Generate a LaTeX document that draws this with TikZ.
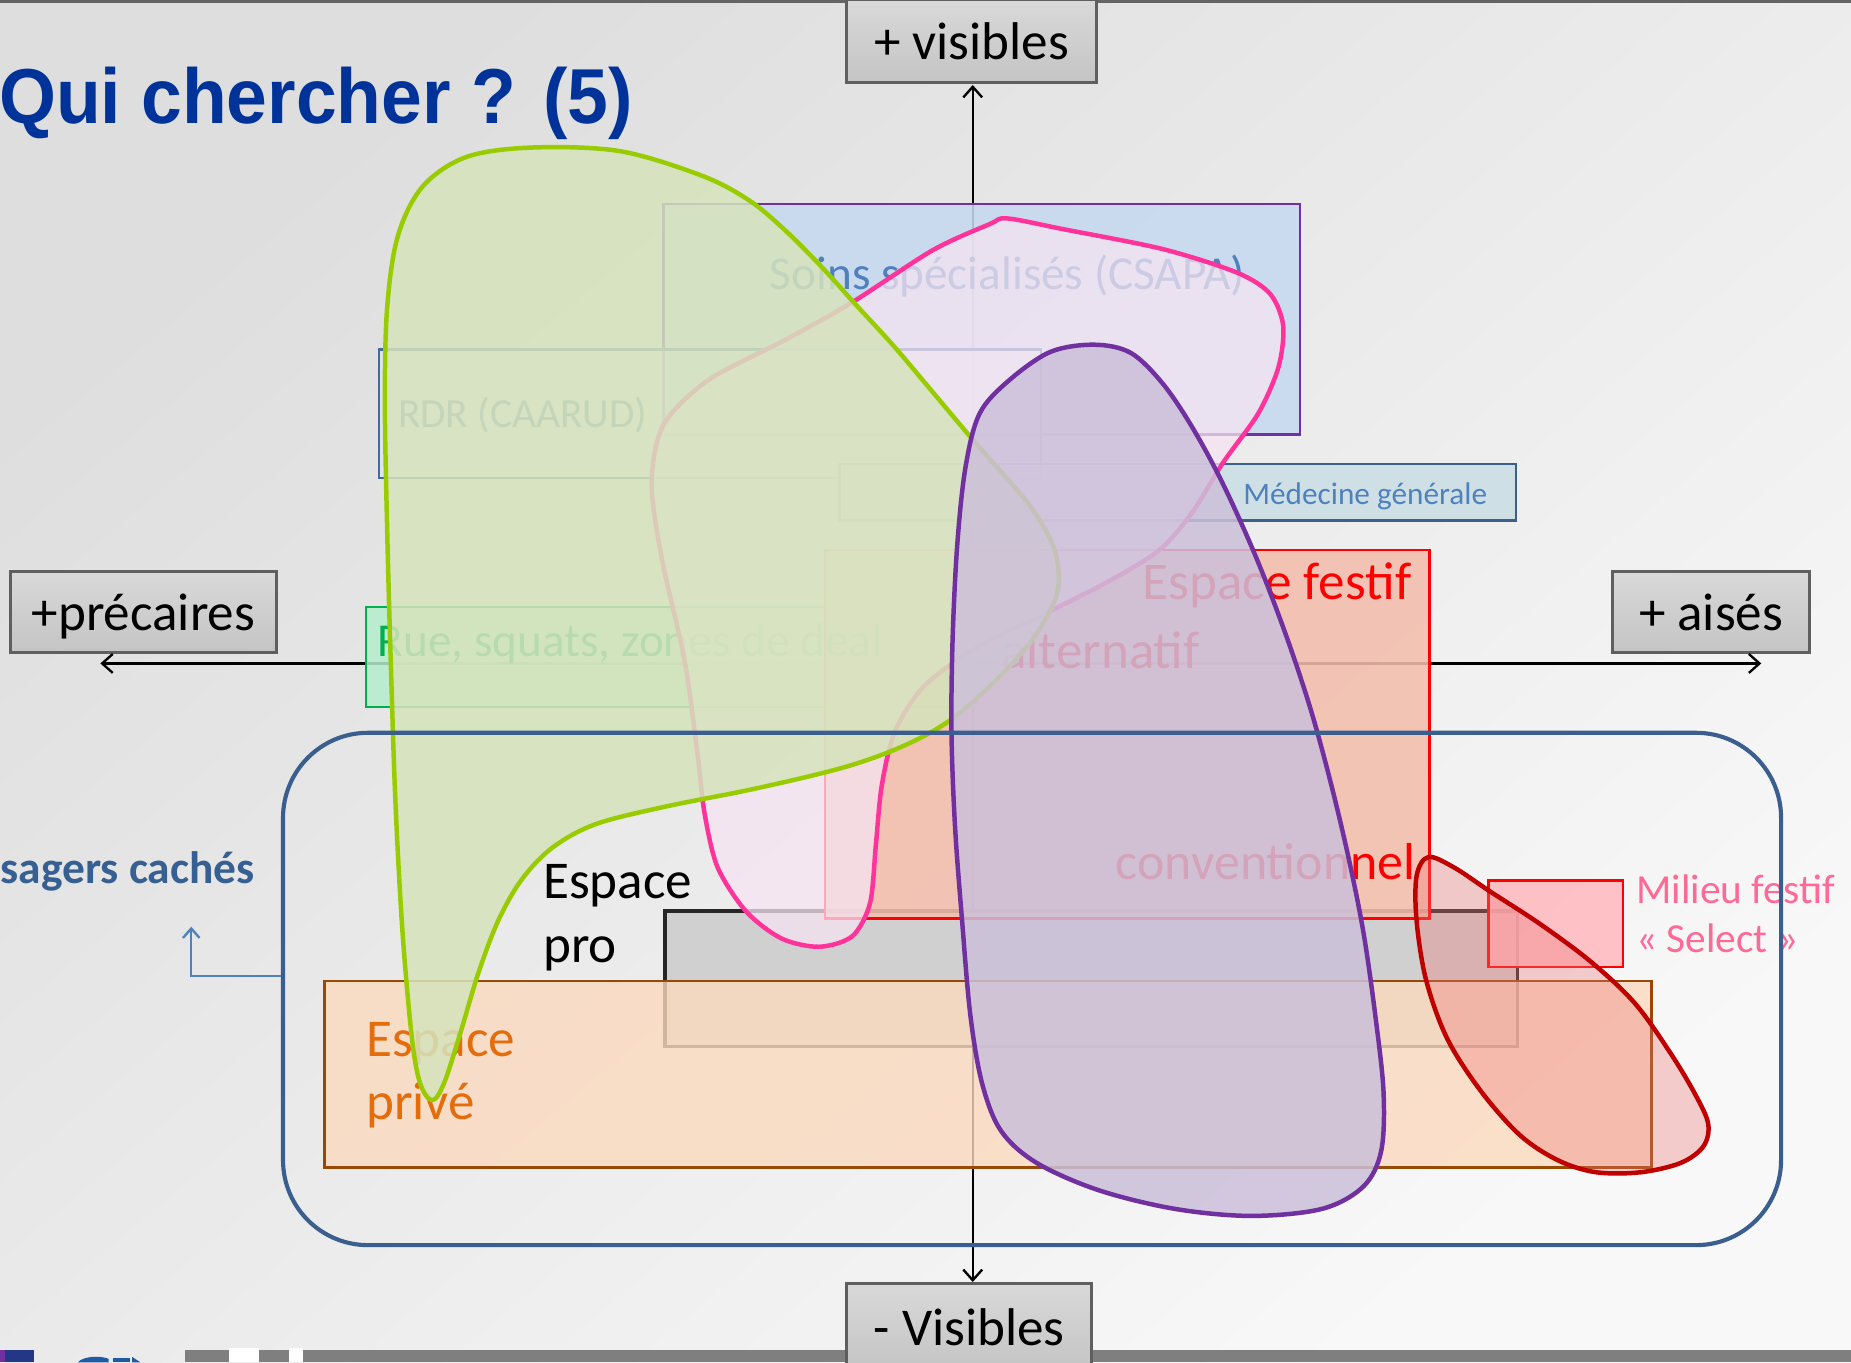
\documentclass[tikz,border=0pt]{standalone}
\usepackage{fontspec}
\setmainfont{Carlito}
\newfontfamily\titlefont{Liberation Sans}
\usetikzlibrary{arrows.meta}
\definecolor{bgL}{RGB}{222,222,222}
\definecolor{bgB}{RGB}{248,248,248}
\definecolor{titleblue}{RGB}{0,51,153}
\definecolor{gtop}{RGB}{217,217,217}
\definecolor{gbot}{RGB}{196,196,196}
\definecolor{gedge}{RGB}{95,95,95}
\definecolor{csapafill}{RGB}{198,217,240}
\definecolor{csapaedge}{RGB}{112,48,160}
\definecolor{txtblue}{RGB}{79,129,189}
\definecolor{rdrfill}{RGB}{220,230,242}
\definecolor{rdredge}{RGB}{70,105,155}
\definecolor{medfill}{RGB}{204,222,230}
\definecolor{mededge}{RGB}{60,95,140}
\definecolor{ruefill}{RGB}{180,238,204}
\definecolor{rueedge}{RGB}{0,176,80}
\definecolor{festfill}{RGB}{243,190,172}
\definecolor{profill}{RGB}{208,208,208}
\definecolor{proedge}{RGB}{38,38,38}
\definecolor{privfill}{RGB}{251,217,190}
\definecolor{privedge}{RGB}{152,72,7}
\definecolor{privtext}{RGB}{228,108,10}
\definecolor{selfill}{RGB}{255,188,192}
\definecolor{seltext}{RGB}{255,105,150}
\definecolor{bigedge}{RGB}{58,94,142}
\definecolor{hidtext}{RGB}{55,96,146}
\definecolor{hidarrow}{RGB}{79,129,189}
\definecolor{greenline}{RGB}{153,204,0}
\definecolor{greenfill}{RGB}{214,227,188}
\definecolor{pinkline}{RGB}{255,51,153}
\definecolor{pinkfill}{RGB}{246,228,242}
\definecolor{purpline}{RGB}{112,48,160}
\definecolor{purpfill}{RGB}{204,192,218}
\definecolor{redline}{RGB}{192,0,0}
\definecolor{redfill}{RGB}{238,120,120}
\definecolor{barcol}{RGB}{127,127,127}
\definecolor{navy}{RGB}{35,55,135}
\definecolor{logoblue}{RGB}{30,90,165}
\definecolor{topline}{RGB}{100,100,100}
\begin{document}
\begin{tikzpicture}[x=1pt,y=-1pt,
  gbox/.style={draw=gedge, line width=2.5pt, top color=gtop, bottom color=gbot,
    inner sep=0pt, text height=31pt, text depth=0pt, font=\fontsize{45}{54}\selectfont},
  area/.style={line width=2pt, inner sep=0pt, anchor=north west},
  lbl/.style={anchor=base west, inner sep=0pt},
  blob/.style={line width=3.8pt, line join=round},
  axisline/.style={line width=2pt, {Straight Barb[length=9pt,width=16pt]}-{Straight Barb[length=9pt,width=16pt]}},
  f45/.style={font=\fontsize{45}{54}\selectfont},
  f40/.style={font=\fontsize{40}{48}\selectfont},
  f35/.style={font=\fontsize{35}{42}\selectfont},
]
\useasboundingbox (0,0) rectangle (1568,1154);
\clip (0,0) rectangle (1568,1154);
% background
\shade[top color=bgL, bottom color=bgB, shading angle=40] (0,0) rectangle (1568,1154);
\fill[topline] (0,0) rectangle (1568,2.5);
% bottom bar and logo pieces
\fill[barcol] (157,1143.5) rectangle (1568,1154);
\fill[white] (194,1142) rectangle (219,1154);
\fill[white] (245,1142) rectangle (257,1154);
\fill[navy] (4,1143.5) rectangle (29,1154);
\fill[csapaedge] (0,1143.5) rectangle (4,1154);
\fill[logoblue] (66,1154) .. controls (70,1149) and (84,1148) .. (92,1151) -- (92,1154) -- cycle;
\fill[logoblue] (96,1150) rectangle (110,1154);
\fill[logoblue] (112,1149.5) -- (119,1154) -- (112,1154) -- cycle;

% title
\node[anchor=base west, inner sep=0pt, text=titleblue, xscale=0.94,
  font=\titlefont\bfseries\fontsize{66}{76}\selectfont] (title) at (-1,105) {Qui chercher ? (5)};

% grey axis boxes
\node[gbox, minimum width=212pt, minimum height=70pt] (vis) at (823,35) {+ visibles};
\node[gbox, minimum width=225pt, minimum height=69pt] (prec) at (121.5,518.5) {+précaires};
\node[gbox, minimum width=167pt, minimum height=69pt] (ais) at (1449.5,518.5) {+ aisés};

% axes
\coordinate (hl) at (85,562);
\coordinate (hr) at (1492,562);
\coordinate (vtop) at (824,72);
\coordinate (vbot) at (824,1086);
\draw[axisline] (vtop) -- (vbot);
\draw[axisline] (hl) -- (hr);

% area boxes
\node[area, draw=csapaedge, fill=csapafill, fill opacity=0.88, minimum width=539pt, minimum height=195pt] (soins) at (561,172) {};
\node[area, draw=rdredge, fill=rdrfill, fill opacity=0.6, minimum width=561pt, minimum height=109pt] (rdr) at (320,295) {};
\node[area, draw=mededge, fill=medfill, fill opacity=0.9, minimum width=573pt, minimum height=48pt] (med) at (710,392) {};
\node[area, draw=rueedge, fill=ruefill, fill opacity=0.85, minimum width=517pt, minimum height=85pt] (rue) at (309,513) {};
\node[area, draw=proedge, line width=3pt, fill=profill, minimum width=722pt, minimum height=115pt] (pro) at (562,770) {};
\node[area, draw=red, fill=festfill, fill opacity=0.88, minimum width=512pt, minimum height=312pt] (fest) at (698,465) {};
\node[area, draw=privedge, fill=privfill, fill opacity=0.8, minimum width=1124pt, minimum height=158pt] (priv) at (274,830) {};
\node[area, draw=red, fill=selfill, fill opacity=0.9, minimum width=114pt, minimum height=73pt] (sel) at (1260,745) {};

% texts of the areas
\node[lbl, f40, text=txtblue] (soinst) at (652,245) {Soins spécialisés (CSAPA)};
\node[lbl, f35, text=txtblue!70!gray] (rdrt) at (337,362) {RDR (CAARUD)};
\node[lbl, font=\fontsize{26.5}{32}\selectfont, text=txtblue] (medt) at (1053,427) {Médecine générale};
\node[lbl, f40, text=rueedge] (ruet) at (320,556) {Rue, squats, zones de deal};
\node[lbl, f45, text=red] (festt1) at (968,508) {Espace festif};
\node[lbl, f45, text=red] (festt2) at (848,566) {alternatif};
\node[lbl, font=\fontsize{44}{52}\selectfont, text=red] (festt3) at (945,745) {conventionnel};
\node[lbl, f45, text=black] (prot1) at (460,761) {Espace};
\node[lbl, f45, text=black] (prot2) at (460,815) {pro};
\node[lbl, f45, text=privtext] (privt1) at (310,895) {Espace};
\node[lbl, f45, text=privtext] (privt2) at (310,948) {privé};
\node[lbl, f35, text=seltext] (selt1) at (1386,765) {Milieu festif};
\node[lbl, f35, text=seltext] (selt2) at (1386,807) {« Select »};

% blobs
\draw[blob, draw=pinkline, fill=pinkfill, fill opacity=0.75] plot[smooth cycle, tension=0.5] coordinates {
 (853,185) (900,194) (985,211) (1048,231) (1076,249) (1087,276) (1083,311) (1066,350) (1036,392)
 (1010,434) (982,466) (940,492) (885,520) (825,550) (782,582) (758,620) (747,665) (742,715) (737,765)
 (722,793) (694,802) (662,795) (632,772) (608,735) (597,690) (591,640) (580,560) (561,475)
 (552,410) (562,360) (600,322) (665,288) (722,256) (790,212) (838,190)};
\draw[blob, draw=greenline, fill=greenfill, fill opacity=0.86] plot[smooth cycle, tension=0.55] coordinates {
 (450,125) (395,133) (358,158) (337,200) (328,260) (326,340) (328,450) (331,560) (335,680)
 (341,790) (349,880) (356,918) (366,932) (376,918) (390,875) (405,825) (422,780) (442,745)
 (468,718) (505,698) (565,683) (640,668) (715,650) (765,632) (805,610) (845,575) (878,537)
 (896,500) (893,465) (875,432) (850,402) (822,370) (790,332) (757,293) (724,257) (695,225)
 (665,195) (635,170) (595,149) (525,128)};
\draw[blob, draw=purpline, fill=purpfill, fill opacity=0.85] plot[smooth cycle, tension=0.55] coordinates {
 (927,292) (958,299) (985,325) (1010,362) (1036,410) (1064,472) (1089,537) (1110,600)
 (1127,662) (1142,725) (1155,790) (1165,860) (1172,925) (1170,975) (1155,1005) (1120,1024)
 (1060,1030) (995,1024) (930,1008) (878,985) (848,958) (832,918) (822,860) (815,780)
 (809,700) (806,620) (807,540) (811,460) (818,395) (830,350) (855,322) (890,298)};
\draw[blob, draw=redline, fill=redfill, fill opacity=0.35] plot[smooth cycle, tension=0.55] coordinates {
 (1210,726) (1232,735) (1262,755) (1305,783) (1348,815) (1385,850) (1415,892) (1436,927)
 (1447,952) (1443,971) (1424,985) (1390,993) (1352,993) (1320,983) (1288,962) (1255,925)
 (1226,880) (1208,830) (1200,780) (1200,742)};

% hidden users frame
\node[draw=bigedge, line width=3.5pt, rounded corners=72pt, inner sep=0pt, anchor=north west,
  minimum width=1269pt, minimum height=434pt] (big) at (238,619) {};
\coordinate (uc) at (162,785);
\draw[hidarrow, line width=2pt, -{Straight Barb[length=8pt,width=14pt]}] ([yshift=11pt]big.west) -| (uc);
\node[anchor=base east, inner sep=0pt, text=hidtext, font=\bfseries\fontsize{38.5}{46}\selectfont] (hid) at (216,748) {sagers cachés};

% bottom box
\node[gbox, minimum width=208pt, minimum height=74pt] (nvis) at (821,1124) {- Visibles};
\end{tikzpicture}
\end{document}
